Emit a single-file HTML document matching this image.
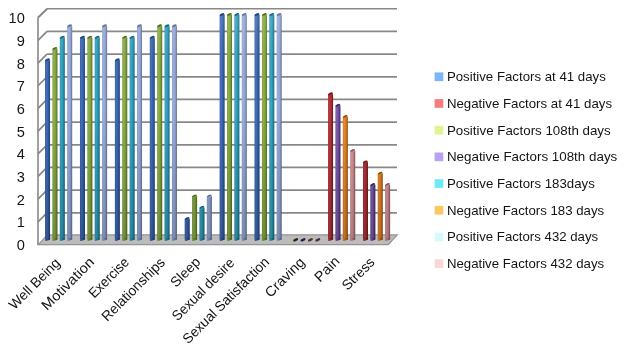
<!DOCTYPE html>
<html><head><meta charset="utf-8"><style>
html,body{margin:0;padding:0;background:#fff;}
svg{display:block;will-change:transform;}
text{font-family:"Liberation Sans",sans-serif;fill:#141414;}
</style></head><body>
<svg width="624" height="350" viewBox="0 0 624 350">
<defs><linearGradient id="g0" x1="0" x2="1" y1="0" y2="0"><stop offset="0" stop-color="#2e5da2"/><stop offset="0.18" stop-color="#426cbc"/><stop offset="0.42" stop-color="#426cbc"/><stop offset="0.7" stop-color="#2e5da2"/><stop offset="1" stop-color="#1c4479"/></linearGradient><linearGradient id="c0" x1="0" x2="0" y1="0" y2="1"><stop offset="0" stop-color="#1f3f6e"/><stop offset="0.35" stop-color="#1c4479"/><stop offset="0.8" stop-color="#2e5da2"/><stop offset="1" stop-color="#426cbc"/></linearGradient><linearGradient id="g1" x1="0" x2="1" y1="0" y2="0"><stop offset="0" stop-color="#a2282f"/><stop offset="0.18" stop-color="#b8363f"/><stop offset="0.42" stop-color="#b8363f"/><stop offset="0.7" stop-color="#a2282f"/><stop offset="1" stop-color="#68161a"/></linearGradient><linearGradient id="c1" x1="0" x2="0" y1="0" y2="1"><stop offset="0" stop-color="#571316"/><stop offset="0.35" stop-color="#68161a"/><stop offset="0.8" stop-color="#a2282f"/><stop offset="1" stop-color="#b8363f"/></linearGradient><linearGradient id="g2" x1="0" x2="1" y1="0" y2="0"><stop offset="0" stop-color="#7b9c38"/><stop offset="0.18" stop-color="#8eb04a"/><stop offset="0.42" stop-color="#8eb04a"/><stop offset="0.7" stop-color="#7b9c38"/><stop offset="1" stop-color="#4e6a1c"/></linearGradient><linearGradient id="c2" x1="0" x2="0" y1="0" y2="1"><stop offset="0" stop-color="#41581a"/><stop offset="0.35" stop-color="#4e6a1c"/><stop offset="0.8" stop-color="#7b9c38"/><stop offset="1" stop-color="#8eb04a"/></linearGradient><linearGradient id="g3" x1="0" x2="1" y1="0" y2="0"><stop offset="0" stop-color="#644495"/><stop offset="0.18" stop-color="#7c5cac"/><stop offset="0.42" stop-color="#7c5cac"/><stop offset="0.7" stop-color="#644495"/><stop offset="1" stop-color="#3a285d"/></linearGradient><linearGradient id="c3" x1="0" x2="0" y1="0" y2="1"><stop offset="0" stop-color="#2f2150"/><stop offset="0.35" stop-color="#3a285d"/><stop offset="0.8" stop-color="#644495"/><stop offset="1" stop-color="#7c5cac"/></linearGradient><linearGradient id="g4" x1="0" x2="1" y1="0" y2="0"><stop offset="0" stop-color="#2490ad"/><stop offset="0.18" stop-color="#34a6c4"/><stop offset="0.42" stop-color="#34a6c4"/><stop offset="0.7" stop-color="#2490ad"/><stop offset="1" stop-color="#156680"/></linearGradient><linearGradient id="c4" x1="0" x2="0" y1="0" y2="1"><stop offset="0" stop-color="#13546a"/><stop offset="0.35" stop-color="#156680"/><stop offset="0.8" stop-color="#2490ad"/><stop offset="1" stop-color="#34a6c4"/></linearGradient><linearGradient id="g5" x1="0" x2="1" y1="0" y2="0"><stop offset="0" stop-color="#da7518"/><stop offset="0.18" stop-color="#eb8b2f"/><stop offset="0.42" stop-color="#eb8b2f"/><stop offset="0.7" stop-color="#da7518"/><stop offset="1" stop-color="#8d490d"/></linearGradient><linearGradient id="c5" x1="0" x2="0" y1="0" y2="1"><stop offset="0" stop-color="#6e3a0c"/><stop offset="0.35" stop-color="#8d490d"/><stop offset="0.8" stop-color="#da7518"/><stop offset="1" stop-color="#eb8b2f"/></linearGradient><linearGradient id="g6" x1="0" x2="1" y1="0" y2="0"><stop offset="0" stop-color="#889cca"/><stop offset="0.18" stop-color="#9cafdc"/><stop offset="0.42" stop-color="#9cafdc"/><stop offset="0.7" stop-color="#889cca"/><stop offset="1" stop-color="#5c6d97"/></linearGradient><linearGradient id="c6" x1="0" x2="0" y1="0" y2="1"><stop offset="0" stop-color="#55658a"/><stop offset="0.35" stop-color="#5c6d97"/><stop offset="0.8" stop-color="#889cca"/><stop offset="1" stop-color="#9cafdc"/></linearGradient><linearGradient id="g7" x1="0" x2="1" y1="0" y2="0"><stop offset="0" stop-color="#c9828a"/><stop offset="0.18" stop-color="#dc9aa1"/><stop offset="0.42" stop-color="#dc9aa1"/><stop offset="0.7" stop-color="#c9828a"/><stop offset="1" stop-color="#8e525a"/></linearGradient><linearGradient id="c7" x1="0" x2="0" y1="0" y2="1"><stop offset="0" stop-color="#76444b"/><stop offset="0.35" stop-color="#8e525a"/><stop offset="0.8" stop-color="#c9828a"/><stop offset="1" stop-color="#dc9aa1"/></linearGradient><linearGradient id="vs" gradientUnits="userSpaceOnUse" x1="0" x2="0" y1="12" y2="242"><stop offset="0" stop-color="#fff" stop-opacity="0.12"/><stop offset="0.4" stop-color="#000" stop-opacity="0"/><stop offset="1" stop-color="#000" stop-opacity="0.2"/></linearGradient></defs>
<rect width="624" height="350" fill="#fff"/>
<polygon points="38.4,244.6 388.3,244.6 397.2,234.9 47.4,234.9" fill="#bcbcbc" stroke="#929292" stroke-width="1.2"/>
<g stroke="#888" stroke-width="1.7"><line x1="47" y1="212.82" x2="397" y2="212.82"/><line x1="38" y1="221.82" x2="47" y2="212.82"/><line x1="47" y1="190.15" x2="397" y2="190.15"/><line x1="38" y1="199.14" x2="47" y2="190.15"/><line x1="47" y1="167.47" x2="397" y2="167.47"/><line x1="38" y1="176.46" x2="47" y2="167.47"/><line x1="47" y1="144.80" x2="397" y2="144.80"/><line x1="38" y1="153.78" x2="47" y2="144.80"/><line x1="47" y1="122.12" x2="397" y2="122.12"/><line x1="38" y1="131.10" x2="47" y2="122.12"/><line x1="47" y1="99.45" x2="397" y2="99.45"/><line x1="38" y1="108.42" x2="47" y2="99.45"/><line x1="47" y1="76.78" x2="397" y2="76.78"/><line x1="38" y1="85.74" x2="47" y2="76.78"/><line x1="47" y1="54.10" x2="397" y2="54.10"/><line x1="38" y1="63.06" x2="47" y2="54.10"/><line x1="47" y1="31.42" x2="397" y2="31.42"/><line x1="38" y1="40.38" x2="47" y2="31.42"/><line x1="47" y1="8.75" x2="397" y2="8.75"/><line x1="38" y1="17.70" x2="47" y2="8.75"/></g>
<line x1="38" y1="17.7" x2="38" y2="245" stroke="#888" stroke-width="1.6"/>
<line x1="38" y1="17.7" x2="47.1" y2="8.8" stroke="#888" stroke-width="1.7"/>
<g><rect x="45.05" y="60.10" width="5.0" height="179.50" fill="url(#g0)"/><ellipse cx="47.55" cy="239.60" rx="2.5" ry="1.1" fill="url(#g0)" transform="rotate(-22 47.55 239.60)"/><rect x="45.05" y="60.10" width="5.0" height="179.50" fill="url(#vs)"/><ellipse cx="47.55" cy="239.60" rx="2.5" ry="1.1" fill="url(#vs)" transform="rotate(-22 47.55 239.60)"/><ellipse cx="47.55" cy="60.10" rx="2.5" ry="1.4" fill="url(#c0)" transform="rotate(-25 47.55 60.10)"/><rect x="52.43" y="48.76" width="5.0" height="190.84" fill="url(#g2)"/><ellipse cx="54.93" cy="239.60" rx="2.5" ry="1.1" fill="url(#g2)" transform="rotate(-22 54.93 239.60)"/><rect x="52.43" y="48.76" width="5.0" height="190.84" fill="url(#vs)"/><ellipse cx="54.93" cy="239.60" rx="2.5" ry="1.1" fill="url(#vs)" transform="rotate(-22 54.93 239.60)"/><ellipse cx="54.93" cy="48.76" rx="2.5" ry="1.4" fill="url(#c2)" transform="rotate(-25 54.93 48.76)"/><rect x="59.81" y="37.42" width="5.0" height="202.18" fill="url(#g4)"/><ellipse cx="62.31" cy="239.60" rx="2.5" ry="1.1" fill="url(#g4)" transform="rotate(-22 62.31 239.60)"/><rect x="59.81" y="37.42" width="5.0" height="202.18" fill="url(#vs)"/><ellipse cx="62.31" cy="239.60" rx="2.5" ry="1.1" fill="url(#vs)" transform="rotate(-22 62.31 239.60)"/><ellipse cx="62.31" cy="37.42" rx="2.5" ry="1.4" fill="url(#c4)" transform="rotate(-25 62.31 37.42)"/><rect x="67.19" y="26.09" width="5.0" height="213.51" fill="url(#g6)"/><ellipse cx="69.69" cy="239.60" rx="2.5" ry="1.1" fill="url(#g6)" transform="rotate(-22 69.69 239.60)"/><rect x="67.19" y="26.09" width="5.0" height="213.51" fill="url(#vs)"/><ellipse cx="69.69" cy="239.60" rx="2.5" ry="1.1" fill="url(#vs)" transform="rotate(-22 69.69 239.60)"/><ellipse cx="69.69" cy="26.09" rx="2.5" ry="1.4" fill="url(#c6)" transform="rotate(-25 69.69 26.09)"/><rect x="79.97" y="37.42" width="5.0" height="202.18" fill="url(#g0)"/><ellipse cx="82.47" cy="239.60" rx="2.5" ry="1.1" fill="url(#g0)" transform="rotate(-22 82.47 239.60)"/><rect x="79.97" y="37.42" width="5.0" height="202.18" fill="url(#vs)"/><ellipse cx="82.47" cy="239.60" rx="2.5" ry="1.1" fill="url(#vs)" transform="rotate(-22 82.47 239.60)"/><ellipse cx="82.47" cy="37.42" rx="2.5" ry="1.4" fill="url(#c0)" transform="rotate(-25 82.47 37.42)"/><rect x="87.35" y="37.42" width="5.0" height="202.18" fill="url(#g2)"/><ellipse cx="89.85" cy="239.60" rx="2.5" ry="1.1" fill="url(#g2)" transform="rotate(-22 89.85 239.60)"/><rect x="87.35" y="37.42" width="5.0" height="202.18" fill="url(#vs)"/><ellipse cx="89.85" cy="239.60" rx="2.5" ry="1.1" fill="url(#vs)" transform="rotate(-22 89.85 239.60)"/><ellipse cx="89.85" cy="37.42" rx="2.5" ry="1.4" fill="url(#c2)" transform="rotate(-25 89.85 37.42)"/><rect x="94.73" y="37.42" width="5.0" height="202.18" fill="url(#g4)"/><ellipse cx="97.23" cy="239.60" rx="2.5" ry="1.1" fill="url(#g4)" transform="rotate(-22 97.23 239.60)"/><rect x="94.73" y="37.42" width="5.0" height="202.18" fill="url(#vs)"/><ellipse cx="97.23" cy="239.60" rx="2.5" ry="1.1" fill="url(#vs)" transform="rotate(-22 97.23 239.60)"/><ellipse cx="97.23" cy="37.42" rx="2.5" ry="1.4" fill="url(#c4)" transform="rotate(-25 97.23 37.42)"/><rect x="102.11" y="26.09" width="5.0" height="213.51" fill="url(#g6)"/><ellipse cx="104.61" cy="239.60" rx="2.5" ry="1.1" fill="url(#g6)" transform="rotate(-22 104.61 239.60)"/><rect x="102.11" y="26.09" width="5.0" height="213.51" fill="url(#vs)"/><ellipse cx="104.61" cy="239.60" rx="2.5" ry="1.1" fill="url(#vs)" transform="rotate(-22 104.61 239.60)"/><ellipse cx="104.61" cy="26.09" rx="2.5" ry="1.4" fill="url(#c6)" transform="rotate(-25 104.61 26.09)"/><rect x="114.88" y="60.10" width="5.0" height="179.50" fill="url(#g0)"/><ellipse cx="117.38" cy="239.60" rx="2.5" ry="1.1" fill="url(#g0)" transform="rotate(-22 117.38 239.60)"/><rect x="114.88" y="60.10" width="5.0" height="179.50" fill="url(#vs)"/><ellipse cx="117.38" cy="239.60" rx="2.5" ry="1.1" fill="url(#vs)" transform="rotate(-22 117.38 239.60)"/><ellipse cx="117.38" cy="60.10" rx="2.5" ry="1.4" fill="url(#c0)" transform="rotate(-25 117.38 60.10)"/><rect x="122.26" y="37.42" width="5.0" height="202.18" fill="url(#g2)"/><ellipse cx="124.76" cy="239.60" rx="2.5" ry="1.1" fill="url(#g2)" transform="rotate(-22 124.76 239.60)"/><rect x="122.26" y="37.42" width="5.0" height="202.18" fill="url(#vs)"/><ellipse cx="124.76" cy="239.60" rx="2.5" ry="1.1" fill="url(#vs)" transform="rotate(-22 124.76 239.60)"/><ellipse cx="124.76" cy="37.42" rx="2.5" ry="1.4" fill="url(#c2)" transform="rotate(-25 124.76 37.42)"/><rect x="129.64" y="37.42" width="5.0" height="202.18" fill="url(#g4)"/><ellipse cx="132.14" cy="239.60" rx="2.5" ry="1.1" fill="url(#g4)" transform="rotate(-22 132.14 239.60)"/><rect x="129.64" y="37.42" width="5.0" height="202.18" fill="url(#vs)"/><ellipse cx="132.14" cy="239.60" rx="2.5" ry="1.1" fill="url(#vs)" transform="rotate(-22 132.14 239.60)"/><ellipse cx="132.14" cy="37.42" rx="2.5" ry="1.4" fill="url(#c4)" transform="rotate(-25 132.14 37.42)"/><rect x="137.02" y="26.09" width="5.0" height="213.51" fill="url(#g6)"/><ellipse cx="139.52" cy="239.60" rx="2.5" ry="1.1" fill="url(#g6)" transform="rotate(-22 139.52 239.60)"/><rect x="137.02" y="26.09" width="5.0" height="213.51" fill="url(#vs)"/><ellipse cx="139.52" cy="239.60" rx="2.5" ry="1.1" fill="url(#vs)" transform="rotate(-22 139.52 239.60)"/><ellipse cx="139.52" cy="26.09" rx="2.5" ry="1.4" fill="url(#c6)" transform="rotate(-25 139.52 26.09)"/><rect x="149.80" y="37.42" width="5.0" height="202.18" fill="url(#g0)"/><ellipse cx="152.30" cy="239.60" rx="2.5" ry="1.1" fill="url(#g0)" transform="rotate(-22 152.30 239.60)"/><rect x="149.80" y="37.42" width="5.0" height="202.18" fill="url(#vs)"/><ellipse cx="152.30" cy="239.60" rx="2.5" ry="1.1" fill="url(#vs)" transform="rotate(-22 152.30 239.60)"/><ellipse cx="152.30" cy="37.42" rx="2.5" ry="1.4" fill="url(#c0)" transform="rotate(-25 152.30 37.42)"/><rect x="157.18" y="26.09" width="5.0" height="213.51" fill="url(#g2)"/><ellipse cx="159.68" cy="239.60" rx="2.5" ry="1.1" fill="url(#g2)" transform="rotate(-22 159.68 239.60)"/><rect x="157.18" y="26.09" width="5.0" height="213.51" fill="url(#vs)"/><ellipse cx="159.68" cy="239.60" rx="2.5" ry="1.1" fill="url(#vs)" transform="rotate(-22 159.68 239.60)"/><ellipse cx="159.68" cy="26.09" rx="2.5" ry="1.4" fill="url(#c2)" transform="rotate(-25 159.68 26.09)"/><rect x="164.56" y="26.09" width="5.0" height="213.51" fill="url(#g4)"/><ellipse cx="167.06" cy="239.60" rx="2.5" ry="1.1" fill="url(#g4)" transform="rotate(-22 167.06 239.60)"/><rect x="164.56" y="26.09" width="5.0" height="213.51" fill="url(#vs)"/><ellipse cx="167.06" cy="239.60" rx="2.5" ry="1.1" fill="url(#vs)" transform="rotate(-22 167.06 239.60)"/><ellipse cx="167.06" cy="26.09" rx="2.5" ry="1.4" fill="url(#c4)" transform="rotate(-25 167.06 26.09)"/><rect x="171.94" y="26.09" width="5.0" height="213.51" fill="url(#g6)"/><ellipse cx="174.44" cy="239.60" rx="2.5" ry="1.1" fill="url(#g6)" transform="rotate(-22 174.44 239.60)"/><rect x="171.94" y="26.09" width="5.0" height="213.51" fill="url(#vs)"/><ellipse cx="174.44" cy="239.60" rx="2.5" ry="1.1" fill="url(#vs)" transform="rotate(-22 174.44 239.60)"/><ellipse cx="174.44" cy="26.09" rx="2.5" ry="1.4" fill="url(#c6)" transform="rotate(-25 174.44 26.09)"/><rect x="184.71" y="218.82" width="5.0" height="20.77" fill="url(#g0)"/><ellipse cx="187.21" cy="239.60" rx="2.5" ry="1.1" fill="url(#g0)" transform="rotate(-22 187.21 239.60)"/><rect x="184.71" y="218.82" width="5.0" height="20.77" fill="url(#vs)"/><ellipse cx="187.21" cy="239.60" rx="2.5" ry="1.1" fill="url(#vs)" transform="rotate(-22 187.21 239.60)"/><ellipse cx="187.21" cy="218.82" rx="2.5" ry="1.4" fill="url(#c0)" transform="rotate(-25 187.21 218.82)"/><rect x="192.09" y="196.15" width="5.0" height="43.45" fill="url(#g2)"/><ellipse cx="194.59" cy="239.60" rx="2.5" ry="1.1" fill="url(#g2)" transform="rotate(-22 194.59 239.60)"/><rect x="192.09" y="196.15" width="5.0" height="43.45" fill="url(#vs)"/><ellipse cx="194.59" cy="239.60" rx="2.5" ry="1.1" fill="url(#vs)" transform="rotate(-22 194.59 239.60)"/><ellipse cx="194.59" cy="196.15" rx="2.5" ry="1.4" fill="url(#c2)" transform="rotate(-25 194.59 196.15)"/><rect x="199.47" y="207.49" width="5.0" height="32.11" fill="url(#g4)"/><ellipse cx="201.97" cy="239.60" rx="2.5" ry="1.1" fill="url(#g4)" transform="rotate(-22 201.97 239.60)"/><rect x="199.47" y="207.49" width="5.0" height="32.11" fill="url(#vs)"/><ellipse cx="201.97" cy="239.60" rx="2.5" ry="1.1" fill="url(#vs)" transform="rotate(-22 201.97 239.60)"/><ellipse cx="201.97" cy="207.49" rx="2.5" ry="1.4" fill="url(#c4)" transform="rotate(-25 201.97 207.49)"/><rect x="206.85" y="196.15" width="5.0" height="43.45" fill="url(#g6)"/><ellipse cx="209.35" cy="239.60" rx="2.5" ry="1.1" fill="url(#g6)" transform="rotate(-22 209.35 239.60)"/><rect x="206.85" y="196.15" width="5.0" height="43.45" fill="url(#vs)"/><ellipse cx="209.35" cy="239.60" rx="2.5" ry="1.1" fill="url(#vs)" transform="rotate(-22 209.35 239.60)"/><ellipse cx="209.35" cy="196.15" rx="2.5" ry="1.4" fill="url(#c6)" transform="rotate(-25 209.35 196.15)"/><rect x="219.63" y="14.75" width="5.0" height="224.85" fill="url(#g0)"/><ellipse cx="222.13" cy="239.60" rx="2.5" ry="1.1" fill="url(#g0)" transform="rotate(-22 222.13 239.60)"/><rect x="219.63" y="14.75" width="5.0" height="224.85" fill="url(#vs)"/><ellipse cx="222.13" cy="239.60" rx="2.5" ry="1.1" fill="url(#vs)" transform="rotate(-22 222.13 239.60)"/><ellipse cx="222.13" cy="14.75" rx="2.5" ry="1.4" fill="url(#c0)" transform="rotate(-25 222.13 14.75)"/><rect x="227.01" y="14.75" width="5.0" height="224.85" fill="url(#g2)"/><ellipse cx="229.51" cy="239.60" rx="2.5" ry="1.1" fill="url(#g2)" transform="rotate(-22 229.51 239.60)"/><rect x="227.01" y="14.75" width="5.0" height="224.85" fill="url(#vs)"/><ellipse cx="229.51" cy="239.60" rx="2.5" ry="1.1" fill="url(#vs)" transform="rotate(-22 229.51 239.60)"/><ellipse cx="229.51" cy="14.75" rx="2.5" ry="1.4" fill="url(#c2)" transform="rotate(-25 229.51 14.75)"/><rect x="234.39" y="14.75" width="5.0" height="224.85" fill="url(#g4)"/><ellipse cx="236.89" cy="239.60" rx="2.5" ry="1.1" fill="url(#g4)" transform="rotate(-22 236.89 239.60)"/><rect x="234.39" y="14.75" width="5.0" height="224.85" fill="url(#vs)"/><ellipse cx="236.89" cy="239.60" rx="2.5" ry="1.1" fill="url(#vs)" transform="rotate(-22 236.89 239.60)"/><ellipse cx="236.89" cy="14.75" rx="2.5" ry="1.4" fill="url(#c4)" transform="rotate(-25 236.89 14.75)"/><rect x="241.77" y="14.75" width="5.0" height="224.85" fill="url(#g6)"/><ellipse cx="244.27" cy="239.60" rx="2.5" ry="1.1" fill="url(#g6)" transform="rotate(-22 244.27 239.60)"/><rect x="241.77" y="14.75" width="5.0" height="224.85" fill="url(#vs)"/><ellipse cx="244.27" cy="239.60" rx="2.5" ry="1.1" fill="url(#vs)" transform="rotate(-22 244.27 239.60)"/><ellipse cx="244.27" cy="14.75" rx="2.5" ry="1.4" fill="url(#c6)" transform="rotate(-25 244.27 14.75)"/><rect x="254.55" y="14.75" width="5.0" height="224.85" fill="url(#g0)"/><ellipse cx="257.05" cy="239.60" rx="2.5" ry="1.1" fill="url(#g0)" transform="rotate(-22 257.05 239.60)"/><rect x="254.55" y="14.75" width="5.0" height="224.85" fill="url(#vs)"/><ellipse cx="257.05" cy="239.60" rx="2.5" ry="1.1" fill="url(#vs)" transform="rotate(-22 257.05 239.60)"/><ellipse cx="257.05" cy="14.75" rx="2.5" ry="1.4" fill="url(#c0)" transform="rotate(-25 257.05 14.75)"/><rect x="261.93" y="14.75" width="5.0" height="224.85" fill="url(#g2)"/><ellipse cx="264.43" cy="239.60" rx="2.5" ry="1.1" fill="url(#g2)" transform="rotate(-22 264.43 239.60)"/><rect x="261.93" y="14.75" width="5.0" height="224.85" fill="url(#vs)"/><ellipse cx="264.43" cy="239.60" rx="2.5" ry="1.1" fill="url(#vs)" transform="rotate(-22 264.43 239.60)"/><ellipse cx="264.43" cy="14.75" rx="2.5" ry="1.4" fill="url(#c2)" transform="rotate(-25 264.43 14.75)"/><rect x="269.31" y="14.75" width="5.0" height="224.85" fill="url(#g4)"/><ellipse cx="271.81" cy="239.60" rx="2.5" ry="1.1" fill="url(#g4)" transform="rotate(-22 271.81 239.60)"/><rect x="269.31" y="14.75" width="5.0" height="224.85" fill="url(#vs)"/><ellipse cx="271.81" cy="239.60" rx="2.5" ry="1.1" fill="url(#vs)" transform="rotate(-22 271.81 239.60)"/><ellipse cx="271.81" cy="14.75" rx="2.5" ry="1.4" fill="url(#c4)" transform="rotate(-25 271.81 14.75)"/><rect x="276.69" y="14.75" width="5.0" height="224.85" fill="url(#g6)"/><ellipse cx="279.19" cy="239.60" rx="2.5" ry="1.1" fill="url(#g6)" transform="rotate(-22 279.19 239.60)"/><rect x="276.69" y="14.75" width="5.0" height="224.85" fill="url(#vs)"/><ellipse cx="279.19" cy="239.60" rx="2.5" ry="1.1" fill="url(#vs)" transform="rotate(-22 279.19 239.60)"/><ellipse cx="279.19" cy="14.75" rx="2.5" ry="1.4" fill="url(#c6)" transform="rotate(-25 279.19 14.75)"/><ellipse cx="295.65" cy="239.8" rx="2.7" ry="1.25" fill="#3e1a1c" transform="rotate(-24 295.65 239.8)"/><ellipse cx="303.03" cy="239.8" rx="2.7" ry="1.25" fill="#261c50" transform="rotate(-24 303.03 239.8)"/><ellipse cx="310.41" cy="239.8" rx="2.7" ry="1.25" fill="#4c3c1c" transform="rotate(-24 310.41 239.8)"/><ellipse cx="317.79" cy="239.8" rx="2.7" ry="1.25" fill="#4e2c38" transform="rotate(-24 317.79 239.8)"/><rect x="328.07" y="94.11" width="5.0" height="145.49" fill="url(#g1)"/><ellipse cx="330.57" cy="239.60" rx="2.5" ry="1.1" fill="url(#g1)" transform="rotate(-22 330.57 239.60)"/><rect x="328.07" y="94.11" width="5.0" height="145.49" fill="url(#vs)"/><ellipse cx="330.57" cy="239.60" rx="2.5" ry="1.1" fill="url(#vs)" transform="rotate(-22 330.57 239.60)"/><ellipse cx="330.57" cy="94.11" rx="2.5" ry="1.4" fill="url(#c1)" transform="rotate(-25 330.57 94.11)"/><rect x="335.45" y="105.45" width="5.0" height="134.15" fill="url(#g3)"/><ellipse cx="337.95" cy="239.60" rx="2.5" ry="1.1" fill="url(#g3)" transform="rotate(-22 337.95 239.60)"/><rect x="335.45" y="105.45" width="5.0" height="134.15" fill="url(#vs)"/><ellipse cx="337.95" cy="239.60" rx="2.5" ry="1.1" fill="url(#vs)" transform="rotate(-22 337.95 239.60)"/><ellipse cx="337.95" cy="105.45" rx="2.5" ry="1.4" fill="url(#c3)" transform="rotate(-25 337.95 105.45)"/><rect x="342.83" y="116.79" width="5.0" height="122.81" fill="url(#g5)"/><ellipse cx="345.33" cy="239.60" rx="2.5" ry="1.1" fill="url(#g5)" transform="rotate(-22 345.33 239.60)"/><rect x="342.83" y="116.79" width="5.0" height="122.81" fill="url(#vs)"/><ellipse cx="345.33" cy="239.60" rx="2.5" ry="1.1" fill="url(#vs)" transform="rotate(-22 345.33 239.60)"/><ellipse cx="345.33" cy="116.79" rx="2.5" ry="1.4" fill="url(#c5)" transform="rotate(-25 345.33 116.79)"/><rect x="350.21" y="150.80" width="5.0" height="88.80" fill="url(#g7)"/><ellipse cx="352.71" cy="239.60" rx="2.5" ry="1.1" fill="url(#g7)" transform="rotate(-22 352.71 239.60)"/><rect x="350.21" y="150.80" width="5.0" height="88.80" fill="url(#vs)"/><ellipse cx="352.71" cy="239.60" rx="2.5" ry="1.1" fill="url(#vs)" transform="rotate(-22 352.71 239.60)"/><ellipse cx="352.71" cy="150.80" rx="2.5" ry="1.4" fill="url(#c7)" transform="rotate(-25 352.71 150.80)"/><rect x="362.98" y="162.14" width="5.0" height="77.46" fill="url(#g1)"/><ellipse cx="365.48" cy="239.60" rx="2.5" ry="1.1" fill="url(#g1)" transform="rotate(-22 365.48 239.60)"/><rect x="362.98" y="162.14" width="5.0" height="77.46" fill="url(#vs)"/><ellipse cx="365.48" cy="239.60" rx="2.5" ry="1.1" fill="url(#vs)" transform="rotate(-22 365.48 239.60)"/><ellipse cx="365.48" cy="162.14" rx="2.5" ry="1.4" fill="url(#c1)" transform="rotate(-25 365.48 162.14)"/><rect x="370.36" y="184.81" width="5.0" height="54.79" fill="url(#g3)"/><ellipse cx="372.86" cy="239.60" rx="2.5" ry="1.1" fill="url(#g3)" transform="rotate(-22 372.86 239.60)"/><rect x="370.36" y="184.81" width="5.0" height="54.79" fill="url(#vs)"/><ellipse cx="372.86" cy="239.60" rx="2.5" ry="1.1" fill="url(#vs)" transform="rotate(-22 372.86 239.60)"/><ellipse cx="372.86" cy="184.81" rx="2.5" ry="1.4" fill="url(#c3)" transform="rotate(-25 372.86 184.81)"/><rect x="377.74" y="173.47" width="5.0" height="66.12" fill="url(#g5)"/><ellipse cx="380.24" cy="239.60" rx="2.5" ry="1.1" fill="url(#g5)" transform="rotate(-22 380.24 239.60)"/><rect x="377.74" y="173.47" width="5.0" height="66.12" fill="url(#vs)"/><ellipse cx="380.24" cy="239.60" rx="2.5" ry="1.1" fill="url(#vs)" transform="rotate(-22 380.24 239.60)"/><ellipse cx="380.24" cy="173.47" rx="2.5" ry="1.4" fill="url(#c5)" transform="rotate(-25 380.24 173.47)"/><rect x="385.12" y="184.81" width="5.0" height="54.79" fill="url(#g7)"/><ellipse cx="387.62" cy="239.60" rx="2.5" ry="1.1" fill="url(#g7)" transform="rotate(-22 387.62 239.60)"/><rect x="385.12" y="184.81" width="5.0" height="54.79" fill="url(#vs)"/><ellipse cx="387.62" cy="239.60" rx="2.5" ry="1.1" fill="url(#vs)" transform="rotate(-22 387.62 239.60)"/><ellipse cx="387.62" cy="184.81" rx="2.5" ry="1.4" fill="url(#c7)" transform="rotate(-25 387.62 184.81)"/></g>
<g font-size="14.6"><text x="24.8" y="250.10" text-anchor="end">0</text><text x="24.8" y="227.43" text-anchor="end">1</text><text x="24.8" y="204.76" text-anchor="end">2</text><text x="24.8" y="182.09" text-anchor="end">3</text><text x="24.8" y="159.42" text-anchor="end">4</text><text x="24.8" y="136.75" text-anchor="end">5</text><text x="24.8" y="114.08" text-anchor="end">6</text><text x="24.8" y="91.41" text-anchor="end">7</text><text x="24.8" y="68.74" text-anchor="end">8</text><text x="24.8" y="46.07" text-anchor="end">9</text><text x="24.8" y="23.40" text-anchor="end">10</text></g>
<g font-size="13.6"><rect x="434.6" y="72.40" width="8.7" height="8.7" fill="#7ab6fa"/><text x="446.9" y="81.20" textLength="158.9" lengthAdjust="spacingAndGlyphs">Positive Factors at 41 days</text><rect x="434.6" y="99.10" width="8.7" height="8.7" fill="#f87c7c"/><text x="446.9" y="107.90" textLength="165.2" lengthAdjust="spacingAndGlyphs">Negative Factors at 41 days</text><rect x="434.6" y="125.80" width="8.7" height="8.7" fill="#def592"/><text x="446.9" y="134.60" textLength="163.8" lengthAdjust="spacingAndGlyphs">Positive Factors 108th days</text><rect x="434.6" y="152.50" width="8.7" height="8.7" fill="#b9a2f0"/><text x="446.9" y="161.30" textLength="170.4" lengthAdjust="spacingAndGlyphs">Negative Factors 108th days</text><rect x="434.6" y="179.20" width="8.7" height="8.7" fill="#6eeaf6"/><text x="446.9" y="188.00" textLength="147.9" lengthAdjust="spacingAndGlyphs">Positive Factors 183days</text><rect x="434.6" y="205.90" width="8.7" height="8.7" fill="#fbc765"/><text x="446.9" y="214.70" textLength="157.3" lengthAdjust="spacingAndGlyphs">Negative Factors 183 days</text><rect x="434.6" y="232.60" width="8.7" height="8.7" fill="#d6fafc"/><text x="446.9" y="241.40" textLength="151.3" lengthAdjust="spacingAndGlyphs">Positive Factors 432 days</text><rect x="434.6" y="259.30" width="8.7" height="8.7" fill="#fad6d6"/><text x="446.9" y="268.10" textLength="157.3" lengthAdjust="spacingAndGlyphs">Negative Factors 432 days</text></g>
<g class="clab" font-size="14"><text x="0" y="0" text-anchor="end" textLength="65.54" lengthAdjust="spacingAndGlyphs" transform="translate(60.90,263.90) rotate(-45)">Well Being</text><text x="0" y="0" text-anchor="end" textLength="68.05" lengthAdjust="spacingAndGlyphs" transform="translate(95.20,263.00) rotate(-45)">Motivation</text><text x="0" y="0" text-anchor="end" textLength="50.72" lengthAdjust="spacingAndGlyphs" transform="translate(130.00,263.00) rotate(-45)">Exercise</text><text x="0" y="0" text-anchor="end" textLength="82.93" lengthAdjust="spacingAndGlyphs" transform="translate(165.80,263.30) rotate(-45)">Relationships</text><text x="0" y="0" text-anchor="end" textLength="35.60" lengthAdjust="spacingAndGlyphs" transform="translate(201.20,262.80) rotate(-45)">Sleep</text><text x="0" y="0" text-anchor="end" textLength="81.65" lengthAdjust="spacingAndGlyphs" transform="translate(235.30,263.80) rotate(-45)">Sexual desire</text><text x="0" y="0" text-anchor="end" textLength="115.54" lengthAdjust="spacingAndGlyphs" transform="translate(270.00,262.80) rotate(-45)">Sexual Satisfaction</text><text x="0" y="0" text-anchor="end" textLength="49.66" lengthAdjust="spacingAndGlyphs" transform="translate(305.60,263.10) rotate(-45)">Craving</text><text x="0" y="0" text-anchor="end" textLength="29.16" lengthAdjust="spacingAndGlyphs" transform="translate(340.50,262.10) rotate(-45)">Pain</text><text x="0" y="0" text-anchor="end" textLength="39.55" lengthAdjust="spacingAndGlyphs" transform="translate(375.50,263.10) rotate(-45)">Stress</text></g>
</svg>
</body></html>
